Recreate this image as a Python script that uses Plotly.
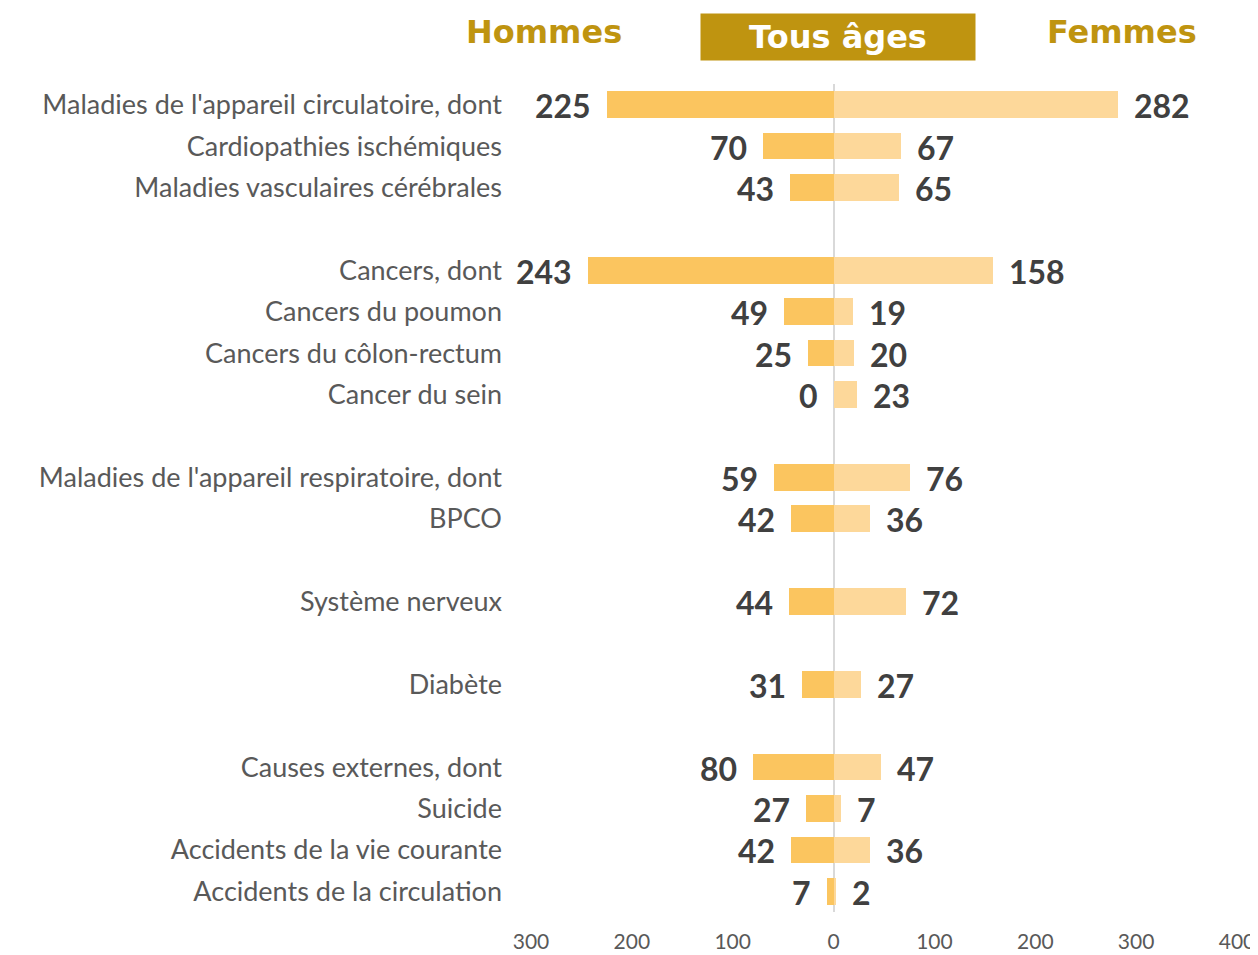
import plotly.graph_objects as go

categories = [
    "Maladies de l'appareil circulatoire, dont",
    "Cardiopathies ischémiques",
    "Maladies vasculaires cérébrales",
    "Cancers, dont",
    "Cancers du poumon",
    "Cancers du côlon-rectum",
    "Cancer du sein",
    "Maladies de l'appareil respiratoire, dont",
    "BPCO",
    "Système nerveux",
    "Diabète",
    "Causes externes, dont",
    "Suicide",
    "Accidents de la vie courante",
    "Accidents de la circulation",
]
# row slots (gaps between groups)
slots = [0, 1, 2, 4, 5, 6, 7, 9, 10, 12, 14, 16, 17, 18, 19]
hommes = [225, 70, 43, 243, 49, 25, 0, 59, 42, 44, 31, 80, 27, 42, 7]
femmes = [282, 67, 65, 158, 19, 20, 23, 76, 36, 72, 27, 47, 7, 36, 2]
tick_vals = [-300, -200, -100, 0, 100, 200, 300, 400]
tick_text = ["300", "200", "100", "0", "100", "200", "300", "400"]

C_H = "#FBC55F"
C_F = "#FDD89A"
GOLD = "#BF9410"

# layout geometry (page has an 8px body margin)
L, T = 523, 76.3
PW, PH = 706, 827.4
W, H = 1250, 947

fig = go.Figure()
fig.add_trace(go.Bar(y=slots, x=[-v for v in hommes], orientation="h",
                     marker=dict(color=C_H, line=dict(width=0)), width=0.645,
                     name="Hommes", hoverinfo="skip"))
fig.add_trace(go.Bar(y=slots, x=femmes, orientation="h",
                     marker=dict(color=C_F, line=dict(width=0)), width=0.645,
                     name="Femmes", hoverinfo="skip"))

lab_font = dict(family="Lato", size=32, color="#404040", weight="bold")
for s, h, f in zip(slots, hommes, femmes):
    fig.add_annotation(x=-h, y=s, text=f"<b>{h}</b>", showarrow=False,
                       xanchor="right", xshift=-14, yshift=-1, font=lab_font)
    fig.add_annotation(x=f, y=s, text=f"<b>{f}</b>", showarrow=False,
                       xanchor="left", xshift=14, yshift=-1, font=lab_font)


def px_x(page_x):
    return (page_x - 8 - L) / PW


def shift_y(page_y):
    return (T + 8) - page_y


hdr_font = dict(family="DejaVu Sans", size=32, color=GOLD, weight="bold")
fig.add_annotation(xref="paper", yref="paper", x=px_x(544), y=1,
                   yshift=shift_y(32), text="<b>Hommes</b>", showarrow=False,
                   xanchor="center", yanchor="middle", font=hdr_font)
fig.add_annotation(xref="paper", yref="paper", x=px_x(1122), y=1,
                   yshift=shift_y(32), text="<b>Femmes</b>", showarrow=False,
                   xanchor="center", yanchor="middle", font=hdr_font)
fig.add_annotation(xref="paper", yref="paper", x=px_x(838), y=1,
                   yshift=shift_y(37), text="<b>Tous âges</b>", showarrow=False,
                   xanchor="center", yanchor="middle", width=270, height=42,
                   bgcolor=GOLD, borderpad=2,
                   font=dict(family="DejaVu Sans", size=32, color="white", weight="bold"))

fig.update_layout(
    width=W, height=H,
    margin=dict(l=L, r=W - L - PW, t=T, b=H - T - PH, autoexpand=False),
    paper_bgcolor="white", plot_bgcolor="white",
    barmode="overlay", bargap=0, showlegend=False,
    xaxis=dict(range=[-300, 400], tickvals=tick_vals, ticktext=tick_text,
               showgrid=False, zeroline=True, zerolinecolor="#D9D9D9", zerolinewidth=2,
               showline=False, ticks="", ticklabelstandoff=15, automargin=False,
               tickfont=dict(family="Lato", size=21, color="#595959"),
               fixedrange=True),
    yaxis=dict(range=[19.5, -0.5], tickvals=slots, ticktext=categories,
               showgrid=False, zeroline=False, showline=False, ticks="",
               ticklabelstandoff=28, automargin=False,
               tickfont=dict(family="Lato", size=27, color="#595959"),
               fixedrange=True),
)

fig.write_html("out.html")
